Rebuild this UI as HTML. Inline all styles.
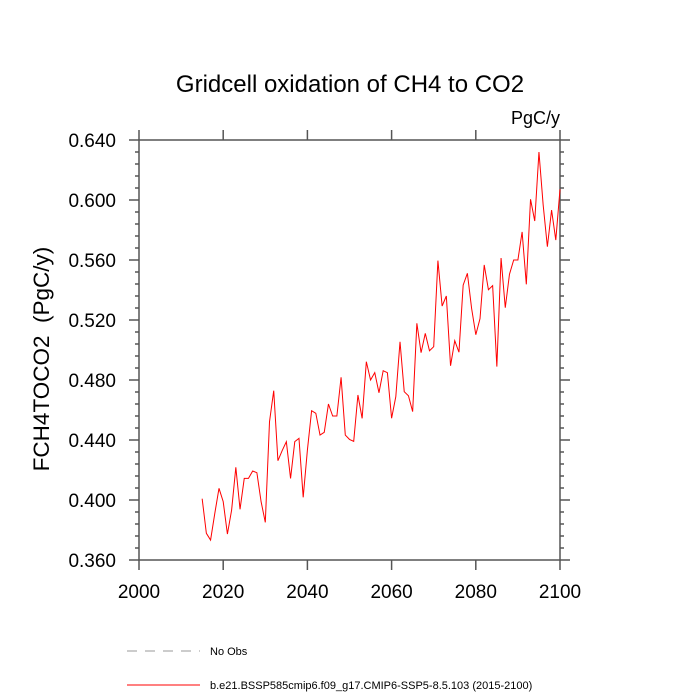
<!DOCTYPE html>
<html><head><meta charset="utf-8"><style>
html,body{margin:0;padding:0;background:#fff;}
svg{display:block;font-family:"Liberation Sans",sans-serif;}
</style></head><body>
<svg id="chart" width="700" height="700" viewBox="0 0 700 700">
<text x="350" y="92" font-size="24" text-anchor="middle">Gridcell oxidation of CH4 to CO2</text>
<text x="560" y="124" font-size="18" text-anchor="end">PgC/y</text>
<text transform="translate(49,359) rotate(-90)" font-size="22.5" text-anchor="middle" style="white-space:pre">FCH4TOCO2  (PgC/y)</text>
<g id="axes"></g>
<polyline id="series" fill="none" stroke="#ff0000" stroke-width="1"/>
<g>
<line x1="127" y1="651" x2="200" y2="651" stroke="#999" stroke-dasharray="10,8"/>
<text x="210" y="655" font-size="11">No Obs</text>
<line x1="127" y1="685" x2="200" y2="685" stroke="#ff0000"/>
<text x="210" y="689" font-size="11">b.e21.BSSP585cmip6.f09_g17.CMIP6-SSP5-8.5.103 (2015-2100)</text>
</g>
</svg>
<script>
const years=[];for(let y=2015;y<=2100;y++)years.push(y);
const values=[0.4009,0.3778,0.3733,0.391,0.4078,0.3989,0.3773,0.3933,0.4218,0.3938,0.4144,0.4144,0.4193,0.4182,0.3989,0.3851,0.4522,0.4729,0.4262,0.4329,0.4389,0.4144,0.4389,0.4411,0.4018,0.4333,0.4595,0.4578,0.4433,0.4451,0.464,0.456,0.456,0.4818,0.4433,0.4404,0.4391,0.47,0.4544,0.4922,0.48,0.4849,0.4715,0.4862,0.4849,0.4545,0.4689,0.5055,0.4722,0.4695,0.4589,0.5178,0.4982,0.5111,0.4995,0.5022,0.5596,0.5293,0.536,0.4895,0.5062,0.4985,0.5433,0.5511,0.5278,0.5102,0.5209,0.5567,0.5402,0.5429,0.4889,0.5613,0.5282,0.5505,0.56,0.56,0.5787,0.5438,0.6005,0.586,0.632,0.5967,0.5689,0.5933,0.5733,0.6071];
const xTicks=[2000,2020,2040,2060,2080,2100];
const yTicks=[0.36,0.40,0.44,0.48,0.52,0.56,0.60,0.64];
const X0=139,X1=560,Y0=560,Y1=140;
const xs=v=>X0+(v-2000)/100*(X1-X0);
const ys=v=>Y0-(v-0.36)/0.28*(Y0-Y1);
const NS="http://www.w3.org/2000/svg";
const ax=document.getElementById('axes');
function mk(t,a,p){const e=document.createElementNS(NS,t);for(const k in a)e.setAttribute(k,a[k]);(p||ax).appendChild(e);return e;}
const fr=mk('rect',{x:X0,y:Y1,width:X1-X0,height:Y0-Y1,fill:'none',stroke:'#555','stroke-width':1.5});


xTicks.forEach(v=>{const x=xs(v);
mk('line',{x1:x,y1:Y0,x2:x,y2:Y0+10,stroke:'#555','stroke-width':1.5});
mk('line',{x1:x,y1:Y1,x2:x,y2:Y1-10,stroke:'#555','stroke-width':1.5});});
for(let i=0;i<=35;i++){const v=0.36+i*0.008;const maj=i%5===0;const L=maj?10:4;const y=ys(v);
mk('line',{x1:X0,y1:y,x2:X0-L,y2:y,stroke:'#555','stroke-width':1.5});
mk('line',{x1:X1,y1:y,x2:X1+L,y2:y,stroke:'#555','stroke-width':1.5});}
xTicks.forEach(v=>{const t=mk('text',{x:xs(v),y:Y0+38,'font-size':19,'text-anchor':'middle'});t.textContent=v;

});
yTicks.forEach(v=>{const t=mk('text',{x:X0-23,y:ys(v)+7,'font-size':19,'text-anchor':'end'});t.textContent=v.toFixed(3);

});
document.getElementById('series').setAttribute('points',years.map((y,i)=>xs(y).toFixed(2)+','+ys(values[i]).toFixed(2)).join(' '));
</script>
</body></html>
